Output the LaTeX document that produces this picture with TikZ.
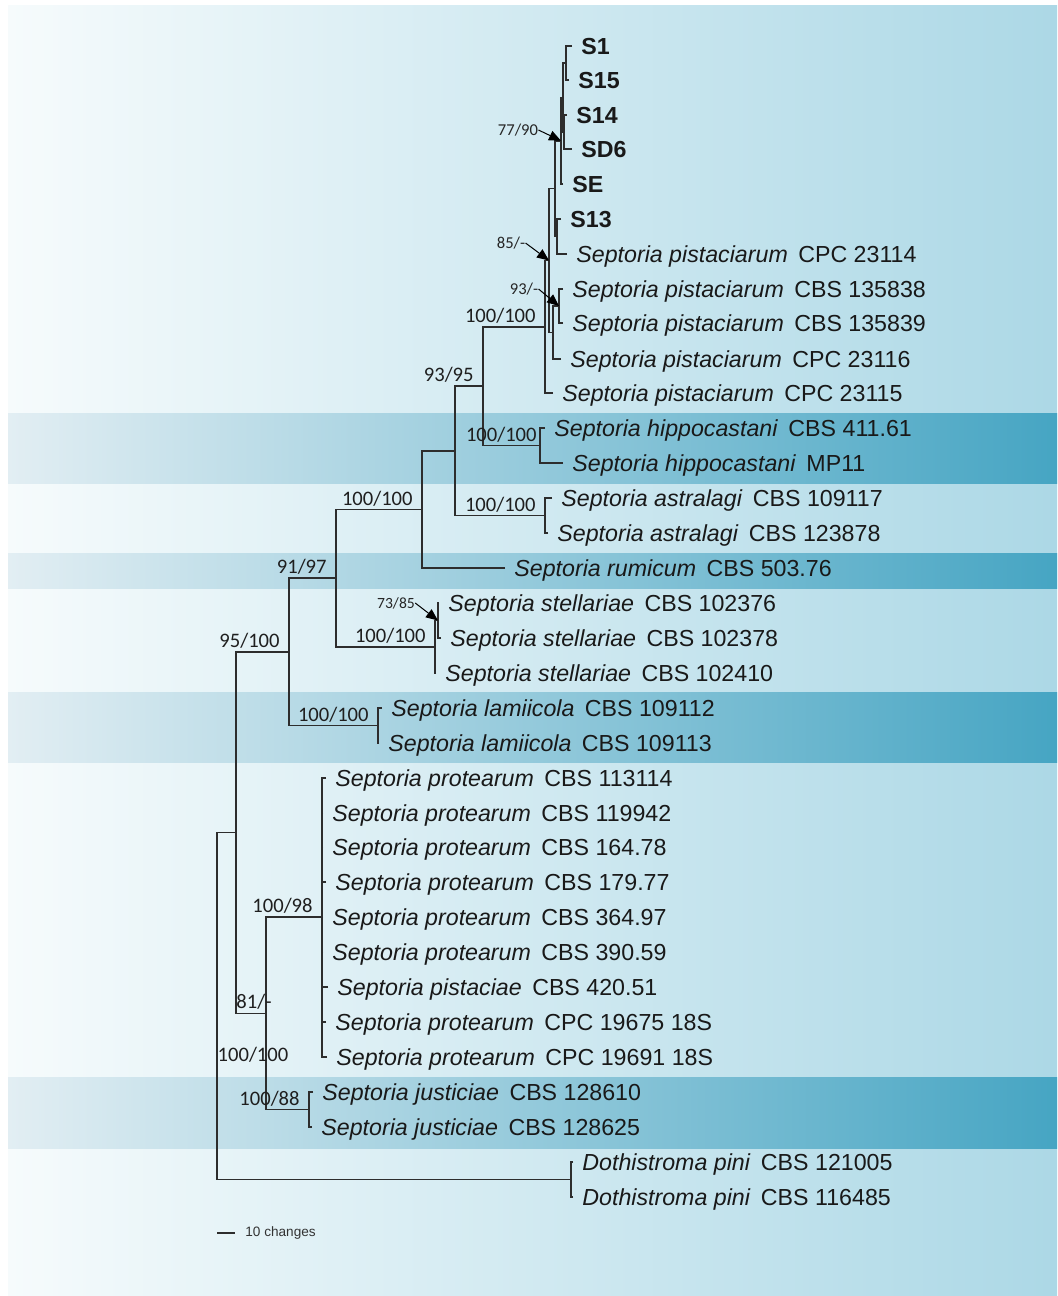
\documentclass[tikz,border=0pt]{standalone}
\usepackage{fontspec}
\setmainfont{Liberation Sans}
\newfontfamily\supfont{Carlito}
\usetikzlibrary{arrows.meta, positioning, calc}
\definecolor{BgLeft}{RGB}{246,251,252}
\definecolor{BgMid}{RGB}{198,229,238}
\definecolor{BgRight}{RGB}{172,216,230}
\definecolor{BandLeft}{RGB}{226,238,243}
\definecolor{BandMid}{RGB}{162,208,224}
\definecolor{BandRight}{RGB}{70,165,195}
\definecolor{TreeGray}{RGB}{45,45,45}

\begin{document}
\begin{tikzpicture}[
        x=0.5pt, y=-0.5pt,
        font=\fontsize{11.6}{14}\selectfont,
        taxon/.style={anchor=west, inner sep=0pt, text height=8.3pt, text depth=0pt, text=black!90},
        isolate/.style={taxon, font=\fontsize{11.6}{14}\selectfont\bfseries},
        branch/.style={draw=TreeGray, line width=0.75pt},
        supval/.style={inner sep=0pt, font=\supfont\fontsize{10.3}{12}\selectfont, text=black!88},
        support/.style={supval, anchor=south east, xshift=-4.5pt, yshift=1.5pt},
        minisup/.style={inner sep=0pt, font=\supfont\fontsize{8.3}{10}\selectfont, text=black!85},
        pointer/.style={-{Triangle[length=6pt, width=5pt]}, draw=black, line width=0.5pt},
        band/.style={left color=BandLeft, middle color=BandMid, right color=BandRight, draw=none}
      ]
        \useasboundingbox (0,0) rectangle (1057,1296);

        % Background and highlighted rows
        \path[left color=BgLeft, middle color=BgMid, right color=BgRight] (8,5) rectangle (1057,1296);
        \path[band] (8,413) rectangle (1057,483);
        \path[band] (8,553) rectangle (1057,588);
        \path[band] (8,692) rectangle (1057,762);
        \path[band] (8,1077) rectangle (1057,1148);

        % Tips: isolates
        \coordinate (tipS1) at (572,46);
        \coordinate (tipS15) at (569,80);
        \coordinate (tipS14) at (567,115);
        \coordinate (tipSD6) at (572,149);
        \coordinate (tipSE) at (563,184);
        \coordinate (tipS13) at (561,219);
        \node[isolate, right=4.5pt of tipS1] (S1) {S1};
        \node[isolate, right=4.5pt of tipS15] (S15) {S15};
        \node[isolate, right=4.5pt of tipS14] (S14) {S14};
        \node[isolate, right=4.5pt of tipSD6] (SD6) {SD6};
        \node[isolate, right=4.5pt of tipSE] (SE) {SE};
        \node[isolate, right=4.5pt of tipS13] (S13) {S13};

        % Tips: reference strains
        \coordinate (tipPis1) at (567,254);
        \coordinate (tipPis2) at (563,289);
        \coordinate (tipPis3) at (563,323);
        \coordinate (tipPis4) at (561,359);
        \coordinate (tipPis5) at (553,393);
        \node[taxon, right=4.5pt of tipPis1] (pis1) {\textit{Septoria pistaciarum}\hspace{0.45em}CPC 23114};
        \node[taxon, right=4.5pt of tipPis2] (pis2) {\textit{Septoria pistaciarum}\hspace{0.45em}CBS 135838};
        \node[taxon, right=4.5pt of tipPis3] (pis3) {\textit{Septoria pistaciarum}\hspace{0.45em}CBS 135839};
        \node[taxon, right=4.5pt of tipPis4] (pis4) {\textit{Septoria pistaciarum}\hspace{0.45em}CPC 23116};
        \node[taxon, right=4.5pt of tipPis5] (pis5) {\textit{Septoria pistaciarum}\hspace{0.45em}CPC 23115};

        \coordinate (tipHip1) at (545,428);
        \coordinate (tipHip2) at (563,463);
        \node[taxon, right=4.5pt of tipHip1] (hip1) {\textit{Septoria hippocastani}\hspace{0.45em}CBS 411.61};
        \node[taxon, right=4.5pt of tipHip2] (hip2) {\textit{Septoria hippocastani}\hspace{0.45em}MP11};

        \coordinate (tipAst1) at (552,498);
        \coordinate (tipAst2) at (548,533);
        \node[taxon, right=4.5pt of tipAst1] (ast1) {\textit{Septoria astralagi}\hspace{0.45em}CBS 109117};
        \node[taxon, right=4.5pt of tipAst2] (ast2) {\textit{Septoria astralagi}\hspace{0.45em}CBS 123878};

        \coordinate (tipRum) at (505,568);
        \node[taxon, right=4.5pt of tipRum] (rum) {\textit{Septoria rumicum}\hspace{0.45em}CBS 503.76};

        \coordinate (tipSte1) at (439,603);
        \coordinate (tipSte2) at (441,638);
        \coordinate (tipSte3) at (436,673);
        \node[taxon, right=4.5pt of tipSte1] (ste1) {\textit{Septoria stellariae}\hspace{0.45em}CBS 102376};
        \node[taxon, right=4.5pt of tipSte2] (ste2) {\textit{Septoria stellariae}\hspace{0.45em}CBS 102378};
        \node[taxon, right=4.5pt of tipSte3] (ste3) {\textit{Septoria stellariae}\hspace{0.45em}CBS 102410};

        \coordinate (tipLam1) at (382,708);
        \coordinate (tipLam2) at (379,743);
        \node[taxon, right=4.5pt of tipLam1] (lam1) {\textit{Septoria lamiicola}\hspace{0.45em}CBS 109112};
        \node[taxon, right=4.5pt of tipLam2] (lam2) {\textit{Septoria lamiicola}\hspace{0.45em}CBS 109113};

        \coordinate (tipPro1) at (326,778);
        \coordinate (tipPro2) at (323,813);
        \coordinate (tipPro3) at (323,847);
        \coordinate (tipPro4) at (326,882);
        \coordinate (tipPro5) at (323,917);
        \coordinate (tipPro6) at (323,952);
        \coordinate (tipPsc) at (328,987);
        \coordinate (tipPro7) at (326,1022);
        \coordinate (tipPro8) at (327,1057);
        \node[taxon, right=4.5pt of tipPro1] (pro1) {\textit{Septoria protearum}\hspace{0.45em}CBS 113114};
        \node[taxon, right=4.5pt of tipPro2] (pro2) {\textit{Septoria protearum}\hspace{0.45em}CBS 119942};
        \node[taxon, right=4.5pt of tipPro3] (pro3) {\textit{Septoria protearum}\hspace{0.45em}CBS 164.78};
        \node[taxon, right=4.5pt of tipPro4] (pro4) {\textit{Septoria protearum}\hspace{0.45em}CBS 179.77};
        \node[taxon, right=4.5pt of tipPro5] (pro5) {\textit{Septoria protearum}\hspace{0.45em}CBS 364.97};
        \node[taxon, right=4.5pt of tipPro6] (pro6) {\textit{Septoria protearum}\hspace{0.45em}CBS 390.59};
        \node[taxon, right=4.5pt of tipPsc] (psc) {\textit{Septoria pistaciae}\hspace{0.45em}CBS 420.51};
        \node[taxon, right=4.5pt of tipPro7] (pro7) {\textit{Septoria protearum}\hspace{0.45em}CPC 19675 18S};
        \node[taxon, right=4.5pt of tipPro8] (pro8) {\textit{Septoria protearum}\hspace{0.45em}CPC 19691 18S};

        \coordinate (tipJus1) at (313,1092);
        \coordinate (tipJus2) at (312,1127);
        \node[taxon, right=4.5pt of tipJus1] (jus1) {\textit{Septoria justiciae}\hspace{0.45em}CBS 128610};
        \node[taxon, right=4.5pt of tipJus2] (jus2) {\textit{Septoria justiciae}\hspace{0.45em}CBS 128625};

        \coordinate (tipDot1) at (573,1162);
        \coordinate (tipDot2) at (573,1197);
        \node[taxon, right=4.5pt of tipDot1] (dot1) {\textit{Dothistroma pini}\hspace{0.45em}CBS 121005};
        \node[taxon, right=4.5pt of tipDot2] (dot2) {\textit{Dothistroma pini}\hspace{0.45em}CBS 116485};

        % Internal nodes
        \coordinate (n1) at (566,63);
        \coordinate (n2) at (564,132);
        \coordinate (n12) at (563,97.5);
        \coordinate (n3) at (561,140.75);
        \coordinate (n4) at (557,236.5);
        \coordinate (nS) at (555,188.6);
        \coordinate (n93) at (559,306);
        \coordinate (nP) at (553,332.5);
        \coordinate (n85) at (549,260.5);
        \coordinate (nA) at (545,326.75);
        \coordinate (nHip) at (540,445.5);
        \coordinate (nB) at (483,386);
        \coordinate (nAst) at (545,515.5);
        \coordinate (nC) at (455,450.75);
        \coordinate (nD) at (422,509.4);
        \coordinate (nSt1) at (438,620.5);
        \coordinate (nSt) at (435,646.75);
        \coordinate (nE) at (336,578);
        \coordinate (nLam) at (378,725.5);
        \coordinate (nF) at (289,651.75);
        \coordinate (nPro) at (322,917);
        \coordinate (nJus) at (309,1109.5);
        \coordinate (nG) at (266,1013.25);
        \coordinate (nH2) at (236,832.5);
        \coordinate (nDot) at (571,1179.5);
        \coordinate (root) at (217,1006);

        % Branches
        \draw[branch] (tipS1) -| (n1);
        \draw[branch] (tipS15) -| (n1);
        \draw[branch] (tipS14) -| (n2);
        \draw[branch] (tipSD6) -| (n2);
        \draw[branch] (n1) -| (n12);
        \draw[branch] (n2) -| (n12);
        \draw[branch] (n12) -| (n3);
        \draw[branch] (tipSE) -| (n3);
        \draw[branch] (tipS13) -| (n4);
        \draw[branch] (tipPis1) -| (n4);
        \draw[branch] (n3) -| (nS);
        \draw[branch] (n4) -| (nS);
        \draw[branch] (tipPis2) -| (n93);
        \draw[branch] (tipPis3) -| (n93);
        \draw[branch] (n93) -| (nP);
        \draw[branch] (tipPis4) -| (nP);
        \draw[branch] (nS) -| (n85);
        \draw[branch] (nP) -| (n85);
        \draw[branch] (n85) -| (nA);
        \draw[branch] (tipPis5) -| (nA);
        \draw[branch] (tipHip1) -| (nHip);
        \draw[branch] (tipHip2) -| (nHip);
        \draw[branch] (nA) -| (nB);
        \draw[branch] (nHip) -| (nB);
        \draw[branch] (tipAst1) -| (nAst);
        \draw[branch] (tipAst2) -| (nAst);
        \draw[branch] (nB) -| (nC);
        \draw[branch] (nAst) -| (nC);
        \draw[branch] (nC) -| (nD);
        \draw[branch] (tipRum) -| (nD);
        \draw[branch] (tipSte1) -| (nSt1);
        \draw[branch] (tipSte2) -| (nSt1);
        \draw[branch] (nSt1) -| (nSt);
        \draw[branch] (tipSte3) -| (nSt);
        \draw[branch] (nD) -| (nE);
        \draw[branch] (nSt) -| (nE);
        \draw[branch] (tipLam1) -| (nLam);
        \draw[branch] (tipLam2) -| (nLam);
        \draw[branch] (nE) -| (nF);
        \draw[branch] (nLam) -| (nF);
        \foreach \t in {tipPro1,tipPro2,tipPro3,tipPro4,tipPro5,tipPro6,tipPsc,tipPro7,tipPro8}
          \draw[branch] (\t) -| (nPro);
        \draw[branch] (tipJus1) -| (nJus);
        \draw[branch] (tipJus2) -| (nJus);
        \draw[branch] (nPro) -| (nG);
        \draw[branch] (nJus) -| (nG);
        \draw[branch] (nF) -| (nH2);
        \draw[branch] (nG) -| (nH2);
        \draw[branch] (tipDot1) -| (nDot);
        \draw[branch] (tipDot2) -| (nDot);
        \draw[branch] (nH2) -| (root);
        \draw[branch] (nDot) -| (root);

        % Support values
        \node[support] (supA) at (nA) {100/100};
        \node[support] (supB) at (nB) {93/95};
        \node[support, xshift=3pt] (supHip) at (nHip) {100/100};
        \node[support] (supAst) at (nAst) {100/100};
        \node[support] (supD) at (nD) {100/100};
        \node[support] (supE) at (nE) {91/97};
        \node[support] (supSt) at (nSt) {100/100};
        \node[support] (supLam) at (nLam) {100/100};
        \node[support] (supF) at (nF) {95/100};
        \node[support] (supPro) at (nPro) {100/98};
        \node[support] (supJus) at (nJus) {100/88};
        \node[support, xshift=7.5pt] (supG) at (nG) {81/-};
        \node[supval] (supH2) at (253,1055) {100/100};

        % Small values with pointers
        \node[minisup] (sup77) at (518,130) {77/90};
        \node[minisup] (sup85) at (511,243) {85/-};
        \node[minisup] (sup93) at (524,289) {93/-};
        \node[minisup, font=\supfont\fontsize{7.8}{9}\selectfont] (sup73) at (396,603) {73/85};
        \draw[pointer] (sup77.east) -- (n3);
        \draw[pointer] (sup85.east) -- (n85);
        \draw[pointer] (sup93.east) -- (n93);
        \draw[pointer] (sup73.east) -- (nSt1);

        % Scale bar
        \coordinate (barL) at (217,1233);
        \coordinate (barR) at (235,1233);
        \draw[branch, line width=0.6pt] (barL) -- (barR);
        \node[anchor=west, inner sep=0pt, font=\fontsize{6.8}{8}\selectfont, text=black!80] (barlabel) at (245,1233) {10 changes};
      \end{tikzpicture}
\end{document}
